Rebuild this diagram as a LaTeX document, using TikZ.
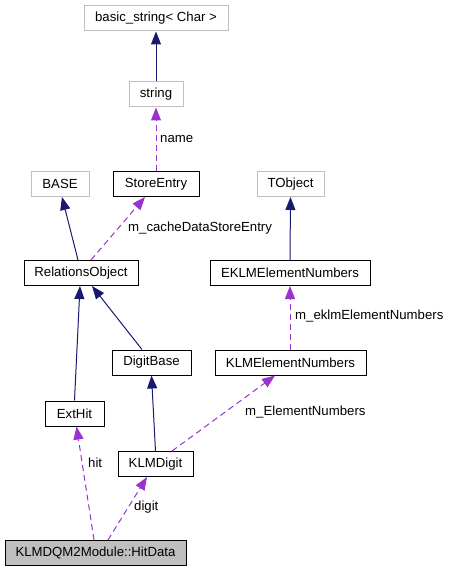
\documentclass[tikz,border=0pt]{standalone}
\usepackage{fontspec}
\setmainfont{Liberation Sans}
\usetikzlibrary{arrows.meta}
\definecolor{inh}{HTML}{191970}
\definecolor{use}{HTML}{9A32CD}
\definecolor{grayb}{HTML}{BFBFBF}
\begin{document}
\begin{tikzpicture}[x=1pt,y=-1pt,
  font=\fontsize{13.2}{15}\selectfont,
  box/.style={draw=black,line width=1pt,inner sep=0pt,minimum height=25pt,align=center},
  gbox/.style={box,draw=grayb},
  hbox/.style={box,fill=grayb},
  inhe/.style={draw=inh,line width=1pt,-{Triangle[length=13pt,width=10pt]}},
  usee/.style={draw=use,line width=1pt,dash pattern=on 6pt off 4pt,-{Triangle[length=13pt,width=10pt]}},
  lbl/.style={inner sep=0pt,anchor=west}]
\useasboundingbox (0,0) rectangle (449,572);
\node[gbox,minimum width=144pt] (bs) at (156,18.5) {basic\_string< Char >};
\node[gbox,minimum width=54pt] (str) at (156,94.5) {string};
\node[gbox,minimum width=58pt] (base) at (60,184) {BASE};
\node[box,minimum width=86pt] (se) at (156,184) {StoreEntry};
\node[gbox,minimum width=67pt] (tobj) at (290.5,184) {TObject};
\node[box,minimum width=114pt] (ro) at (81,273) {RelationsObject};
\node[box,minimum width=160pt] (eklm) at (290,273) {EKLMElementNumbers};
\node[box,minimum width=79pt] (db) at (151.5,362.5) {DigitBase};
\node[box,minimum width=151pt] (klmen) at (290.5,362.5) {KLMElementNumbers};
\node[box,minimum width=59pt] (ext) at (74.5,413.5) {ExtHit};
\node[box,minimum width=75pt] (kd) at (155.5,464) {KLMDigit};
\node[hbox,minimum width=181pt] (hd) at (95.5,553) {KLMDQM2Module::HitData};

\draw[inhe] (str.north) -- (bs.south);
\draw[usee] (se.north) -- (str.south);
\draw[inhe] ([xshift=-3pt]ro.north) -- ([xshift=2pt]base.south);
\draw[usee] ([xshift=10pt]ro.north) -- ([xshift=-11pt]se.south);
\draw[inhe] (eklm.north) -- (tobj.south);
\draw[usee] ([xshift=-0.5pt]klmen.north) -- (eklm.south);
\draw[inhe] (ext.north) -- ([xshift=-1pt]ro.south);
\draw[inhe] ([xshift=-9.5pt]db.north) -- ([xshift=11pt]ro.south);
\draw[inhe] (kd.north) -- (db.south);
\draw[usee] ([xshift=16.5pt]kd.north) -- ([xshift=-15.5pt]klmen.south);
\draw[usee] ([xshift=-1.5pt]hd.north) -- ([xshift=2pt]ext.south);
\draw[usee] ([xshift=12.5pt]hd.north) -- ([xshift=-8.5pt]kd.south);

\node[lbl] (l1) at (160,139) {name};
\node[lbl] (l2) at (128,228) {m\_cacheDataStoreEntry};
\node[lbl] (l3) at (295,316) {m\_eklmElementNumbers};
\node[lbl] (l4) at (245,412) {m\_ElementNumbers};
\node[lbl] (l5) at (88,463) {hit};
\node[lbl] (l6) at (134,507) {digit};
\end{tikzpicture}
\end{document}
